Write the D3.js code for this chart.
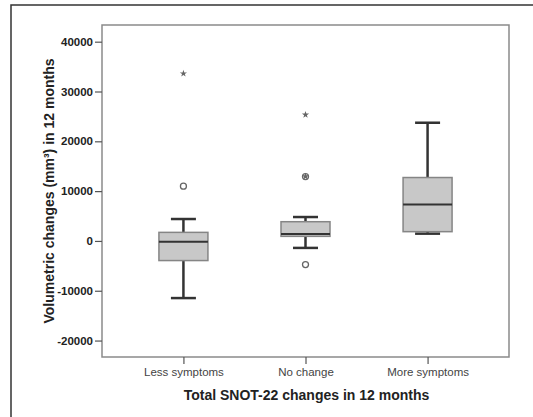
<!DOCTYPE html>
<html>
<head>
<meta charset="utf-8">
<script src="https://cdn.jsdelivr.net/npm/d3@7"></script>
<style>
  html, body { margin: 0; padding: 0; background: #fff; }
  svg { display: block; }
</style>
</head>
<body>
<div id="chart"></div>
<script>
// Box plot: volumetric change by SNOT-22 change group
const categories = ["Less symptoms", "No change", "More symptoms"];
const whiskerLow  = [-11470, -1400, 1460];
const q1          = [-3940, 920, 1860];
const median      = [-140, 1400, 7330];
const q3          = [1720, 3860, 12730];
const whiskerHigh = [4400, 4800, 23730];
// outliers (circles) and extremes (stars): [category, value]
const outliers = [["Less symptoms", 11000], ["No change", 12930], ["No change", -4740]];
const extremes = [["Less symptoms", 33600], ["No change", 25330], ["No change", 12930]];
const yTicks = [-20000, -10000, 0, 10000, 20000, 30000, 40000];

const W = 533, H = 417;
const M = { left: 102, right: 509, top: 25, bottom: 357 };

const svg = d3.select('#chart').append('svg')
  .attr('width', W).attr('height', H)
  .style('font-family', 'Arial, "Liberation Sans", sans-serif');

// outer frame (runs off the page on right/bottom)
svg.append('rect')
  .attr('x', 11).attr('y', 5).attr('width', 560).attr('height', 440)
  .attr('fill', 'none').attr('stroke', '#333').attr('stroke-width', 1.5);

const x = d3.scalePoint().domain(categories).range([M.left, M.right]).padding(0.667);
const y = d3.scaleLinear().domain([-23300, 43350]).range([M.bottom, M.top]);

const boxW = 49, capW = 25;

// plot frame
svg.append('rect')
  .attr('x', M.left).attr('y', M.top)
  .attr('width', M.right - M.left).attr('height', M.bottom - M.top)
  .attr('fill', 'none').attr('stroke', '#8a8a8a').attr('stroke-width', 1.5);

// y axis
const yAxis = svg.append('g')
  .attr('transform', `translate(${M.left},0)`)
  .call(d3.axisLeft(y).tickValues(yTicks).tickSize(7).tickPadding(2).tickFormat(d => String(d)));
yAxis.select('.domain').remove();
yAxis.selectAll('line').attr('stroke', '#555').attr('stroke-width', 1.2);
yAxis.selectAll('text').attr('font-size', '11.5px').attr('font-weight', 'bold')
  .attr('fill', '#222').attr('font-family', 'Arial, "Liberation Sans", sans-serif');

// x axis
const xAxis = svg.append('g')
  .attr('transform', `translate(0,${M.bottom})`)
  .call(d3.axisBottom(x).tickSize(7).tickPadding(4));
xAxis.select('.domain').remove();
xAxis.selectAll('line').attr('stroke', '#555').attr('stroke-width', 1.2);
xAxis.selectAll('text').attr('font-size', '11.5px').attr('fill', '#444')
  .attr('font-family', 'Arial, "Liberation Sans", sans-serif');

// boxes
const g = svg.append('g');
categories.forEach((c, i) => {
  const cx = x(c);
  // whiskers
  g.append('line').attr('x1', cx).attr('x2', cx)
    .attr('y1', y(q3[i])).attr('y2', y(whiskerHigh[i]))
    .attr('stroke', '#333').attr('stroke-width', 2.5);
  g.append('line').attr('x1', cx).attr('x2', cx)
    .attr('y1', y(q1[i])).attr('y2', y(whiskerLow[i]))
    .attr('stroke', '#333').attr('stroke-width', 2.5);
  [whiskerLow[i], whiskerHigh[i]].forEach(v => {
    g.append('line').attr('x1', cx - capW / 2).attr('x2', cx + capW / 2)
      .attr('y1', y(v)).attr('y2', y(v))
      .attr('stroke', '#333').attr('stroke-width', 2.5);
  });
  g.append('rect')
    .attr('x', cx - boxW / 2).attr('y', y(q3[i]))
    .attr('width', boxW).attr('height', y(q1[i]) - y(q3[i]))
    .attr('fill', '#c8c8c8').attr('stroke', '#858585').attr('stroke-width', 1.5);
  g.append('line').attr('x1', cx - boxW / 2).attr('x2', cx + boxW / 2)
    .attr('y1', y(median[i])).attr('y2', y(median[i]))
    .attr('stroke', '#333').attr('stroke-width', 2);
});

// outliers
g.selectAll('circle.out').data(outliers).join('circle')
  .attr('class', 'out')
  .attr('cx', d => x(d[0])).attr('cy', d => y(d[1])).attr('r', 3)
  .attr('fill', 'none').attr('stroke', '#666').attr('stroke-width', 1.3);

g.selectAll('path.ext').data(extremes).join('path')
  .attr('class', 'ext')
  .attr('transform', d => `translate(${x(d[0])},${y(d[1])})`)
  .attr('d', d3.symbol(d3.symbolStar, 16))
  .attr('fill', '#666');

// axis titles
svg.append('text')
  .attr('x', (M.left + M.right) / 2 + 1).attr('y', 400)
  .attr('text-anchor', 'middle')
  .attr('font-size', '14px').attr('font-weight', 'bold').attr('fill', '#222')
  .text('Total SNOT-22 changes in 12 months');

svg.append('text')
  .attr('transform', `translate(54,${(M.top + M.bottom) / 2}) rotate(-90)`)
  .attr('text-anchor', 'middle')
  .attr('font-size', '14px').attr('font-weight', 'bold').attr('fill', '#222')
  .text('Volumetric changes (mm³) in 12 months');
</script>
</body>
</html>
